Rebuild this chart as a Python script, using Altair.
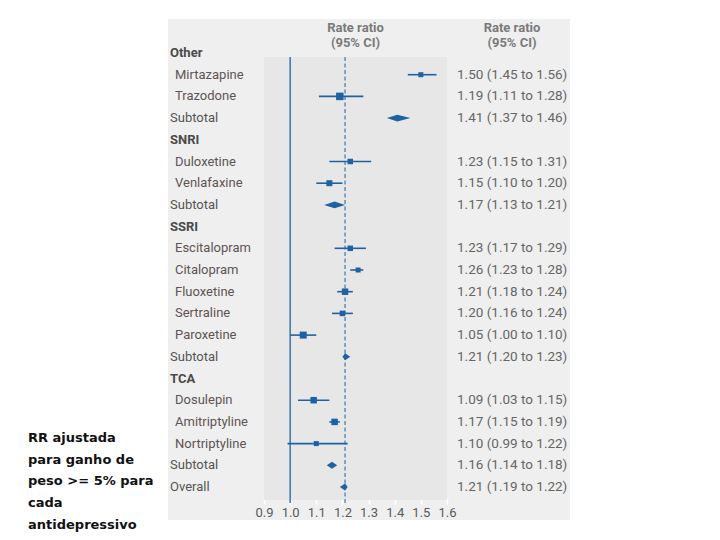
import altair as alt
import pandas as pd

# ---------------- data ----------------
labels = ["Other", "Mirtazapine", "Trazodone", "Subtotal",
          "SNRI", "Duloxetine", "Venlafaxine", "Subtotal",
          "SSRI", "Escitalopram", "Citalopram", "Fluoxetine", "Sertraline", "Paroxetine", "Subtotal",
          "TCA", "Dosulepin", "Amitriptyline", "Nortriptyline", "Subtotal",
          "Overall"]
kinds = ["group", "drug", "drug", "subtotal",
         "group", "drug", "drug", "subtotal",
         "group", "drug", "drug", "drug", "drug", "drug", "subtotal",
         "group", "drug", "drug", "drug", "subtotal",
         "overall"]
est = [None, 1.50, 1.19, 1.41,
       None, 1.23, 1.15, 1.17,
       None, 1.23, 1.26, 1.21, 1.20, 1.05, 1.21,
       None, 1.09, 1.17, 1.10, 1.16,
       1.21]
lo = [None, 1.45, 1.11, 1.37,
      None, 1.15, 1.10, 1.13,
      None, 1.17, 1.23, 1.18, 1.16, 1.00, 1.20,
      None, 1.03, 1.15, 0.99, 1.14,
      1.19]
hi = [None, 1.56, 1.28, 1.46,
      None, 1.31, 1.20, 1.21,
      None, 1.29, 1.28, 1.24, 1.24, 1.10, 1.23,
      None, 1.15, 1.19, 1.22, 1.18,
      1.22]
# relative study weight (drives marker size)
weight = [None, 5, 7.5, None,
          None, 5.5, 6, None,
          None, 5.5, 5, 6.5, 5.5, 7, None,
          None, 6.5, 6.5, 5, None,
          None]
x_ticks = [0.9, 1.0, 1.1, 1.2, 1.3, 1.4, 1.5, 1.6]
null_value = [1.0]
header = "Rate ratio\n(95% CI)"
caption = "RR ajustada\npara ganho de\npeso >= 5% para\ncada\nantidepressivo"

# ---------------- tables ----------------
ci_text = [("" if e is None else f"{e:.2f} ({l:.2f} to {h:.2f})") for e, l, h in zip(est, lo, hi)]
df = pd.DataFrame({"row": list(range(len(labels))), "label": labels, "kind": kinds,
                   "est": est, "lo": lo, "hi": hi, "weight": weight, "ci": ci_text})

H = 0.16
dia = []
for r, k, e, l, h in zip(range(len(labels)), kinds, est, lo, hi):
    if k in ("subtotal", "overall"):
        dia += [{"row": r, "x": l, "y1": r, "y2": r},
                {"row": r, "x": e, "y1": r - H, "y2": r + H},
                {"row": r, "x": h, "y1": r, "y2": r}]
dia = pd.DataFrame(dia)

# ---------------- layout / style ----------------
BLUE = "#1f62a3"
PANEL = "#efefef"
INNER = "#e7e7e7"
PANEL_H = 501
CAP_W, LAB_W, FOR_W, CI_W = 160, 96, 183, 123
ROW0 = 34
STEP = 21.7
FONT = "Roboto"

yscale = alt.Scale(domain=[-ROW0 / STEP, (PANEL_H - ROW0) / STEP], reverse=True, nice=False, zero=False)
xscale = alt.Scale(domain=[min(x_ticks), max(x_ticks)], nice=False, zero=False)
X_AXIS = alt.Axis(values=x_ticks, format=".1f", offset=-22, domain=False, tickColor="white",
                  tickSize=6, tickWidth=1.5, labelColor="#5a5a5a", labelFont=FONT, labelFontSize=13,
                  labelPadding=2, labelFlush=False, labelOverlap=False, labelBound=False, grid=False, title=None)
no_bg = alt.ViewBackground(fill=None, stroke=None)


def Y(field="row"):
    return alt.Y(f"{field}:Q", scale=yscale, axis=None)


def X(field):
    return alt.X(f"{field}:Q", scale=xscale, axis=X_AXIS, title=None)


# caption panel (white) - also carries the grey backdrop behind the three table panels
backdrop = alt.Chart(pd.DataFrame({"k": [0]})).mark_rect(color=PANEL).encode(
    x=alt.value(CAP_W), x2=alt.value(CAP_W + LAB_W + FOR_W + CI_W), y=alt.value(0), y2=alt.value(PANEL_H))
cap_text = alt.Chart(pd.DataFrame({"t": [caption]})).mark_text(
    align="left", baseline="top", font="DejaVu Sans", fontWeight="bold", fontSize=13,
    lineHeight=21.7, lineBreak="\n", color="#111111"
).encode(x=alt.value(20), y=alt.value(413), text="t:N")
cap = alt.layer(backdrop, cap_text).properties(width=CAP_W, height=PANEL_H, view=no_bg)

# label panel
base = alt.Chart(df)
grp = base.transform_filter("datum.kind == 'group'").mark_text(
    align="left", baseline="middle", font=FONT, fontSize=13, fontWeight="bold", color="#4a4a4a"
).encode(x=alt.value(2), y=Y(), text="label:N")
sub = base.transform_filter("datum.kind == 'subtotal' || datum.kind == 'overall'").mark_text(
    align="left", baseline="middle", font=FONT, fontSize=13, color="#555555"
).encode(x=alt.value(2), y=Y(), text="label:N")
drg = base.transform_filter("datum.kind == 'drug'").mark_text(
    align="left", baseline="middle", font=FONT, fontSize=13, color="#5e5454"
).encode(x=alt.value(7), y=Y(), text="label:N")
lab_panel = alt.layer(grp, sub, drg).properties(width=LAB_W, height=PANEL_H, view=no_bg)

# forest panel
inner = alt.Chart(pd.DataFrame({"a": [min(x_ticks)], "b": [max(x_ticks)]})).mark_rect(color=INNER).encode(
    x=X("a"), x2="b", y=alt.value(38), y2=alt.value(481))
null_line = alt.Chart(pd.DataFrame({"v": null_value})).mark_rule(color=BLUE, strokeWidth=1.3).encode(
    x=X("v"), y=alt.value(38), y2=alt.value(484))
overall_line = base.transform_filter("datum.kind == 'overall'").mark_rule(
    color=BLUE, strokeWidth=1, strokeDash=[4, 2.5]).encode(x=X("est"), y=alt.value(38), y2=alt.value(484))
ci_rules = base.transform_filter("datum.kind == 'drug'").mark_rule(color=BLUE, strokeWidth=1.6).encode(
    x=X("lo"), x2="hi:Q", y=Y())
squares = base.transform_filter("datum.kind == 'drug'").mark_square(color=BLUE, filled=True, opacity=1).encode(
    x=X("est"), y=Y(),
    size=alt.Size("weight:Q", scale=alt.Scale(type="pow", exponent=2, domain=[0, 10], range=[0, 100]), legend=None))
diamonds = alt.Chart(dia).mark_area(color=BLUE, orient="vertical", opacity=1).encode(
    x=X("x"), y=alt.Y("y1:Q", scale=yscale, axis=None), y2="y2:Q", detail="row:N")
head1 = alt.Chart(pd.DataFrame({"t": [header]})).mark_text(
    align="center", baseline="middle", font=FONT, fontSize=13, fontWeight="bold", color="#7a7a7a",
    lineHeight=15.5, lineBreak="\n"
).encode(x=alt.value(FOR_W / 2), y=alt.value(8.5), text="t:N")
forest = alt.layer(inner, null_line, overall_line, ci_rules, squares, diamonds, head1).properties(
    width=FOR_W, height=PANEL_H, view=no_bg)

# CI text panel
ci_txt = base.transform_filter("datum.ci != ''").mark_text(
    align="left", baseline="middle", font=FONT, fontSize=13.5, color="#666666"
).encode(x=alt.value(10), y=Y(), text="ci:N")
head2 = alt.Chart(pd.DataFrame({"t": [header]})).mark_text(
    align="center", baseline="middle", font=FONT, fontSize=13, fontWeight="bold", color="#7a7a7a",
    lineHeight=15.5, lineBreak="\n"
).encode(x=alt.value(65), y=alt.value(8.5), text="t:N")
ci_panel = alt.layer(ci_txt, head2).properties(width=CI_W, height=PANEL_H, view=no_bg)

chart = alt.hconcat(cap, lab_panel, forest, ci_panel, spacing=0, bounds="flush").properties(
    padding={"left": 0, "top": 11, "right": 0, "bottom": 0}
).configure_view(stroke=None)

chart.save("out.html", embed_options={"renderer": "svg", "actions": False})
